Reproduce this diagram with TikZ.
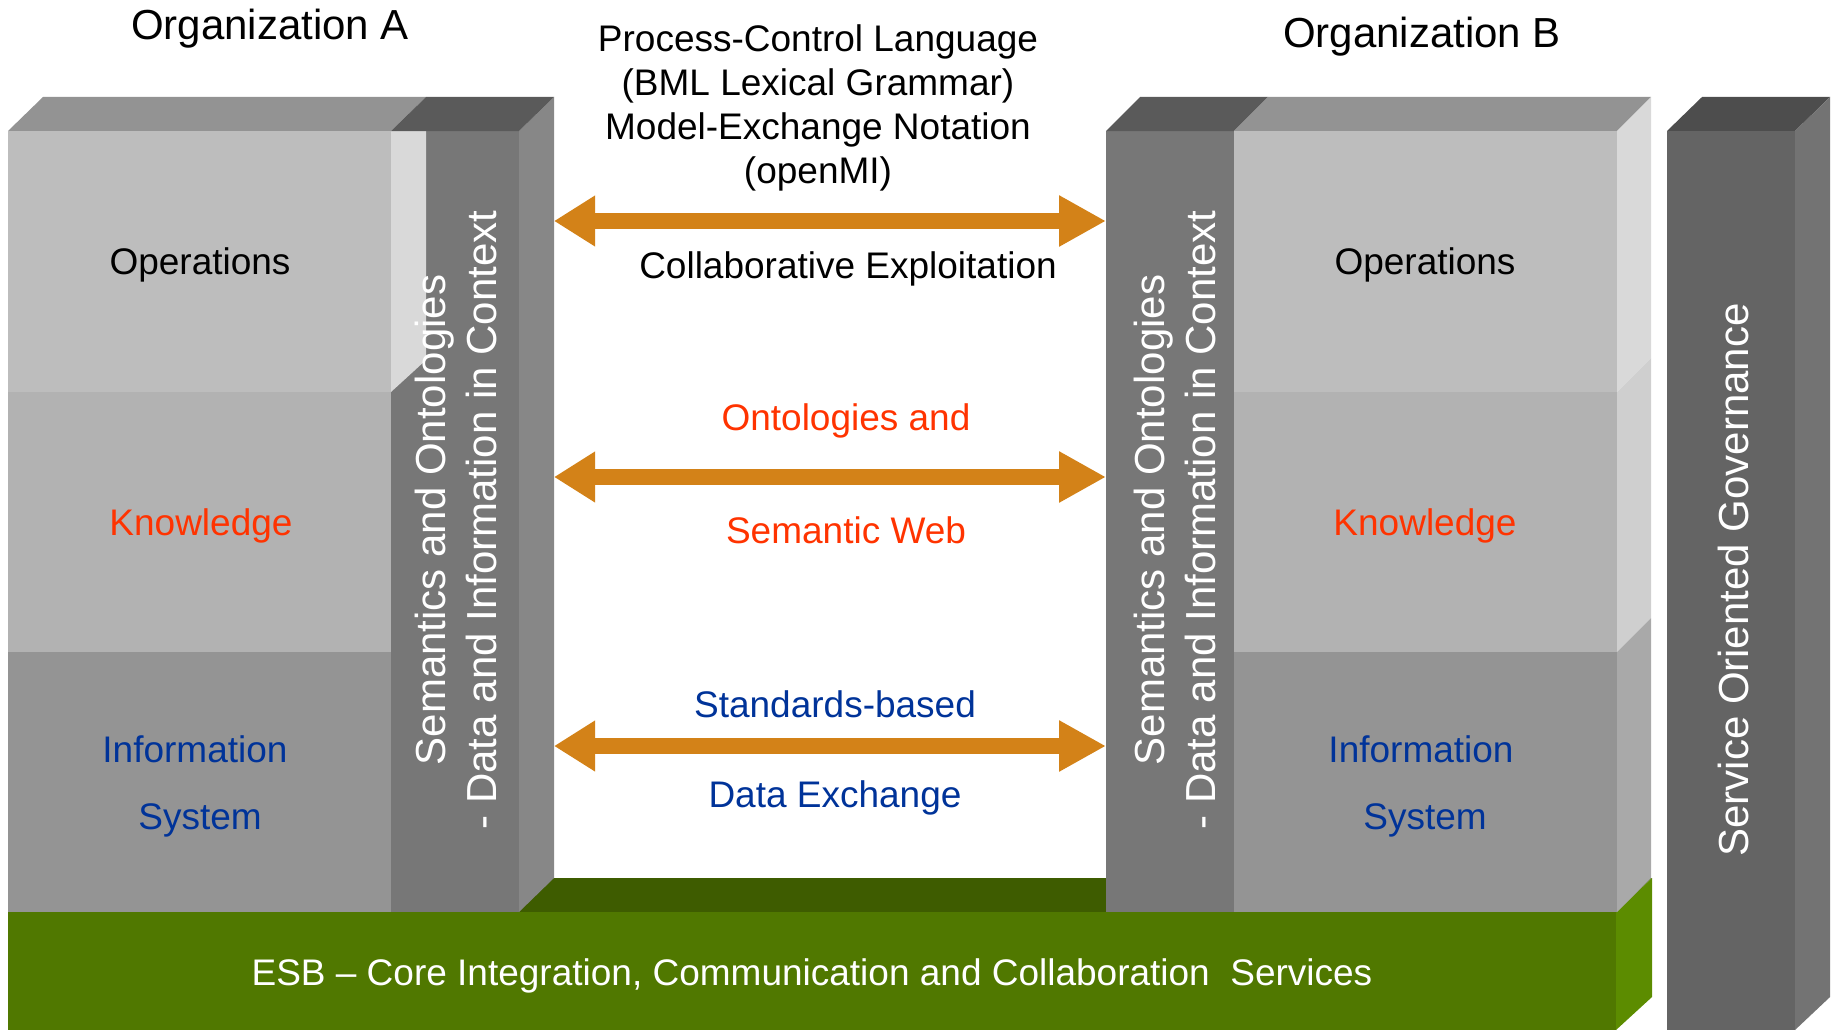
\documentclass[tikz,border=0pt]{standalone}
\usepackage{fontspec}
\setmainfont{Liberation Sans}
\usetikzlibrary{arrows.meta}

\definecolor{opsface}{HTML}{BDBDBD}
\definecolor{knowface}{HTML}{B2B2B2}
\definecolor{infoface}{HTML}{949494}
\definecolor{blocktop}{HTML}{939393}
\definecolor{opsside}{HTML}{D9D9D9}
\definecolor{knowside}{HTML}{CFCFCF}
\definecolor{infoside}{HTML}{A9A9A9}
\definecolor{colface}{HTML}{777777}
\definecolor{coltop}{HTML}{5A5A5A}
\definecolor{colside}{HTML}{878787}
\definecolor{govface}{HTML}{646464}
\definecolor{govtop}{HTML}{4D4D4D}
\definecolor{govside}{HTML}{737373}
\definecolor{esbface}{HTML}{507800}
\definecolor{esbtop}{HTML}{3E5C00}
\definecolor{esbside}{HTML}{5C8C00}
\definecolor{flow}{HTML}{D38218}
\definecolor{knowred}{HTML}{FF3300}
\definecolor{infoblue}{HTML}{003399}

\begin{document}
\begin{tikzpicture}[x=1pt, y=-1pt,
    txt/.style={font=\fontsize{37}{44.3}\selectfont, inner sep=0pt, anchor=base},
    title/.style={font=\fontsize{42}{50}\selectfont, inner sep=0pt, anchor=base},
    vtxt/.style={font=\fontsize{42}{51.5}\selectfont, inner sep=0pt, text=white, rotate=90, align=center},
    flowarrow/.style={draw=flow, line width=16pt, {Triangle[length=41pt,width=48pt]}-{Triangle[length=47pt,width=48pt]}}]

    \useasboundingbox (0,0) rectangle (1835,1030);

    % --- ESB base bar ---
    \fill[esbtop] (8,912) -- (43,878) -- (1652,878) -- (1616,912) -- cycle;
    \fill[esbface] (8,912) rectangle (1616,1030);
    \fill[esbside] (1616,912) -- (1652,878) -- (1652,997) -- (1616,1030) -- cycle;

    % --- Organization A ---
    % semantics column, behind the stack
    \fill[colface] (391,131) rectangle (519,912);
    \fill[colside] (519,131) -- (554,97) -- (554,878) -- (519,912) -- cycle;
    % the three layers
    \fill[blocktop] (8,131) -- (43,97) -- (426,97) -- (391,131) -- cycle;
    \fill[opsface] (8,131) rectangle (391,392);
    \fill[knowface] (8,392) rectangle (391,652);
    \fill[infoface] (8,652) rectangle (391,912);
    \fill[opsside] (391,131) -- (426,131) -- (426,360) -- (391,392) -- cycle;
    % top of the column goes over the strip
    \fill[coltop] (391,131) -- (426,97) -- (554,97) -- (519,131) -- cycle;

    % --- Organization B ---
    \fill[colface] (1106,131) rectangle (1234,912);
    \fill[coltop] (1106,131) -- (1140,97) -- (1268,97) -- (1234,131) -- cycle;
    \fill[blocktop] (1234,131) -- (1268,97) -- (1651,97) -- (1617,131) -- cycle;
    \fill[opsface] (1234,131) rectangle (1617,392);
    \fill[knowface] (1234,392) rectangle (1617,652);
    \fill[infoface] (1234,652) rectangle (1617,912);
    \fill[opsside] (1617,131) -- (1651,97) -- (1651,358) -- (1617,392) -- cycle;
    \fill[knowside] (1617,392) -- (1651,358) -- (1651,618) -- (1617,652) -- cycle;
    \fill[infoside] (1617,652) -- (1651,618) -- (1651,878) -- (1617,912) -- cycle;

    % --- Governance column ---
    \fill[govtop] (1667,131) -- (1702,97) -- (1830,97) -- (1795,131) -- cycle;
    \fill[govface] (1667,131) rectangle (1795,1030);
    \fill[govside] (1795,131) -- (1830,97) -- (1830,997) -- (1795,1030) -- cycle;

    % --- Arrow ends on the columns ---
    \coordinate (colA1) at (554,221);
    \coordinate (colB1) at (1106,221);
    \coordinate (colA2) at (554,477);
    \coordinate (colB2) at (1106,477);
    \coordinate (colA3) at (554,746);
    \coordinate (colB3) at (1106,746);

    \draw[flowarrow] (colA1) -- (colB1);
    \draw[flowarrow] (colA2) -- (colB2);
    \draw[flowarrow] (colA3) -- (colB3);

    % --- Titles ---
    \node[title] (orgA) at (270,40) {Organization A};
    \node[title] (orgB) at (1422,48) {Organization B};

    % --- Labels between the organizations ---
    \node[txt, align=center, anchor=north] (pcl) at (818,24) {Process-Control Language\\(BML Lexical Grammar)\\Model-Exchange Notation\\(openMI)};
    \node[txt] (collab) at (848,278) {Collaborative Exploitation};
    \node[txt, text=knowred] (onto) at (846,430) {Ontologies and};
    \node[txt, text=knowred] (semweb) at (846,543) {Semantic Web};
    \node[txt, text=infoblue] (std) at (835,717) {Standards-based};
    \node[txt, text=infoblue] (dex) at (835,807) {Data Exchange};

    % --- Layer labels ---
    \node[txt] (opsA) at (200,274) {Operations};
    \node[txt, text=knowred] (knowA) at (201,535) {Knowledge};
    \node[txt, text=infoblue] (infoA) at (195,762) {Information};
    \node[txt, text=infoblue] (sysA) at (200,829) {System};

    \node[txt] (opsB) at (1425,274) {Operations};
    \node[txt, text=knowred] (knowB) at (1425,535) {Knowledge};
    \node[txt, text=infoblue] (infoB) at (1421,762) {Information};
    \node[txt, text=infoblue] (sysB) at (1425,829) {System};

    % --- Column labels ---
    \node[vtxt] (semA) at (456,520) {Semantics and Ontologies\\- Data and Information in Context};
    \node[vtxt] (semB) at (1175,520) {Semantics and Ontologies\\- Data and Information in Context};
    \node[vtxt] (gov) at (1733,580) {Service Oriented Governance};

    \node[txt, text=white] (esb) at (812,985) {ESB – Core Integration, Communication and Collaboration~ Services};

\end{tikzpicture}
\end{document}
